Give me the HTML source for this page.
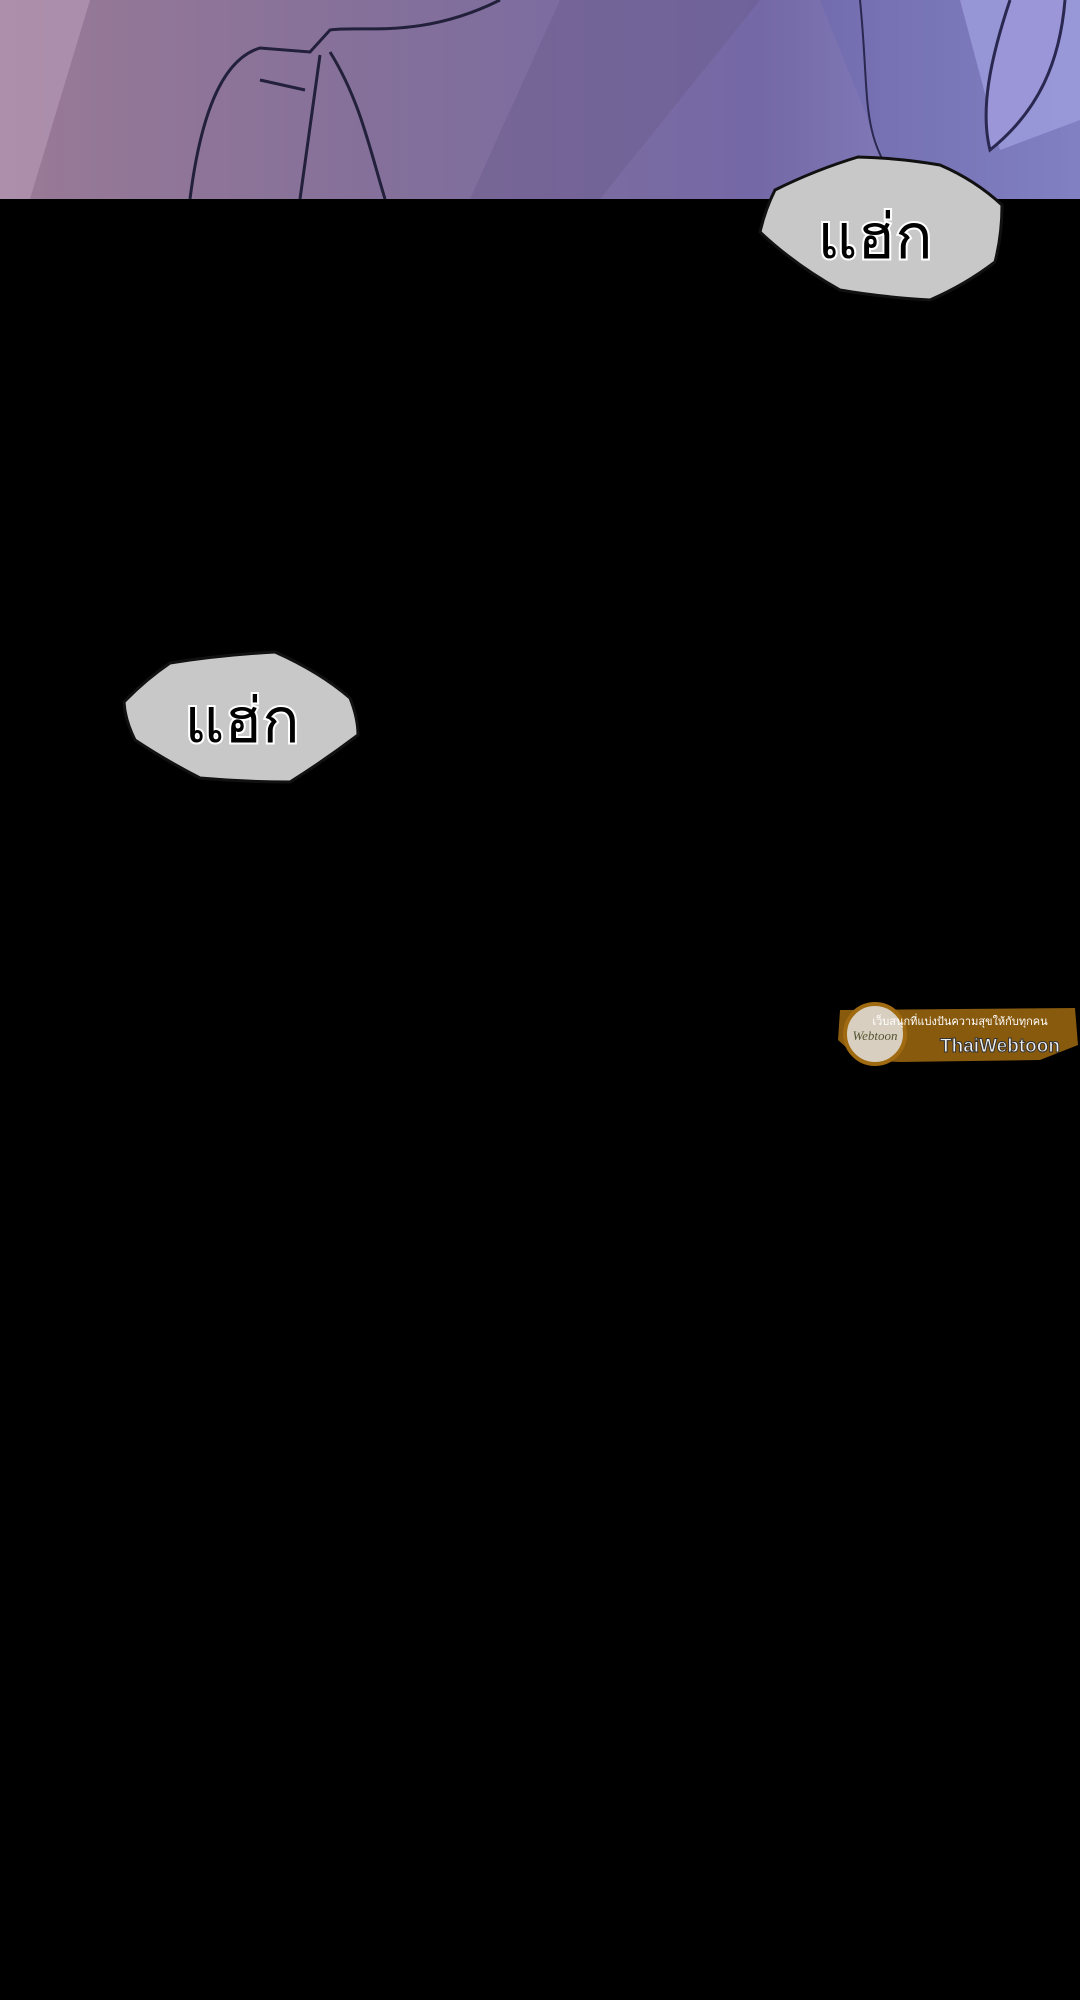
<!DOCTYPE html>
<html><head><meta charset="utf-8"><style>
html,body{margin:0;padding:0;background:#000;}
body{width:1080px;height:2000px;overflow:hidden;position:relative;}
</style></head><body>
<svg width="1080" height="2000" viewBox="0 0 1080 2000" style="position:absolute;left:0;top:0">
<defs>
<linearGradient id="bg" x1="0" y1="0" x2="1" y2="0">
<stop offset="0" stop-color="#9a7a96"/>
<stop offset="0.35" stop-color="#84709a"/>
<stop offset="0.7" stop-color="#7468a6"/>
<stop offset="1" stop-color="#9090d0"/>
</linearGradient>
</defs>
<rect x="0" y="0" width="1080" height="2000" fill="#000"/>
<rect x="0" y="0" width="1080" height="199" fill="url(#bg)"/>
<polygon points="0,0 90,0 30,199 0,199" fill="#c0a4c0" opacity="0.5"/>
<polygon points="560,0 760,0 600,199 470,199" fill="#6a5a8a" opacity="0.4"/>
<polygon points="820,0 1080,0 1080,199 900,199" fill="#6a68b0" opacity="0.4"/>
<polygon points="960,0 1080,0 1080,120 1000,150" fill="#a8a8e8" opacity="0.6"/>
<path d="M190,199 C200,120 220,60 260,48 L310,52 L330,30 C360,25 420,40 500,0" stroke="#22203a" stroke-width="3" fill="none"/>
<path d="M300,199 L320,55 M330,52 C360,100 370,150 385,199" stroke="#22203a" stroke-width="3" fill="none"/>
<path d="M260,80 L305,90" stroke="#22203a" stroke-width="3" fill="none"/>
<path d="M1010,0 C990,60 980,110 990,150 C1040,110 1060,60 1065,0" stroke="#2a2850" stroke-width="3" fill="#9a96d8"/>
<path d="M860,0 C870,100 860,130 895,180" stroke="#2a2850" stroke-width="2" fill="none"/>
<path d="M858,157 Q900,158 940,165 Q975,180 1002,205 Q1002,235 995,262 Q965,285 930,300 Q880,297 840,290 Q795,265 760,232 Q765,210 775,190 Q815,170 858,157 Z" fill="#c8c8c8" stroke="#111" stroke-width="3"/>
<text x="875" y="258" font-family="'Liberation Sans','DejaVu Sans',sans-serif" font-size="62" fill="#000" stroke="#fff" stroke-width="4" paint-order="stroke" text-anchor="middle">แฮ่ก</text>
<path d="M170,663 Q220,655 275,652 Q320,672 350,698 Q358,718 358,735 Q325,760 290,782 Q245,782 200,778 Q165,760 135,740 Q125,720 124,702 Q145,680 170,663 Z" fill="#c8c8c8" stroke="#111" stroke-width="3"/>
<text x="242" y="742" font-family="'Liberation Sans','DejaVu Sans',sans-serif" font-size="62" fill="#000" stroke="#fff" stroke-width="4" paint-order="stroke" text-anchor="middle">แฮ่ก</text>
<path d="M840,1010 L1075,1008 L1078,1045 L1040,1060 L900,1062 L860,1060 L838,1040 Z" fill="#a06a10" opacity="0.85"/>
<circle cx="875" cy="1034" r="30" fill="#d8cfc0" stroke="#a06a10" stroke-width="4"/>
<text x="875" y="1040" font-family="'Liberation Serif',serif" font-style="italic" font-size="13" fill="#553" text-anchor="middle">Webtoon</text>
<text x="960" y="1025" font-family="'Liberation Sans','DejaVu Sans',sans-serif" font-size="11" fill="#fff" text-anchor="middle">เว็บสนุกที่แบ่งปันความสุขให้กับทุกคน</text>
<text x="1000" y="1052" font-family="'Liberation Sans',sans-serif" font-size="19" font-weight="bold" fill="#eee" stroke="#333" stroke-width="1" text-anchor="middle">ThaiWebtoon</text>
</svg>
</body></html>
